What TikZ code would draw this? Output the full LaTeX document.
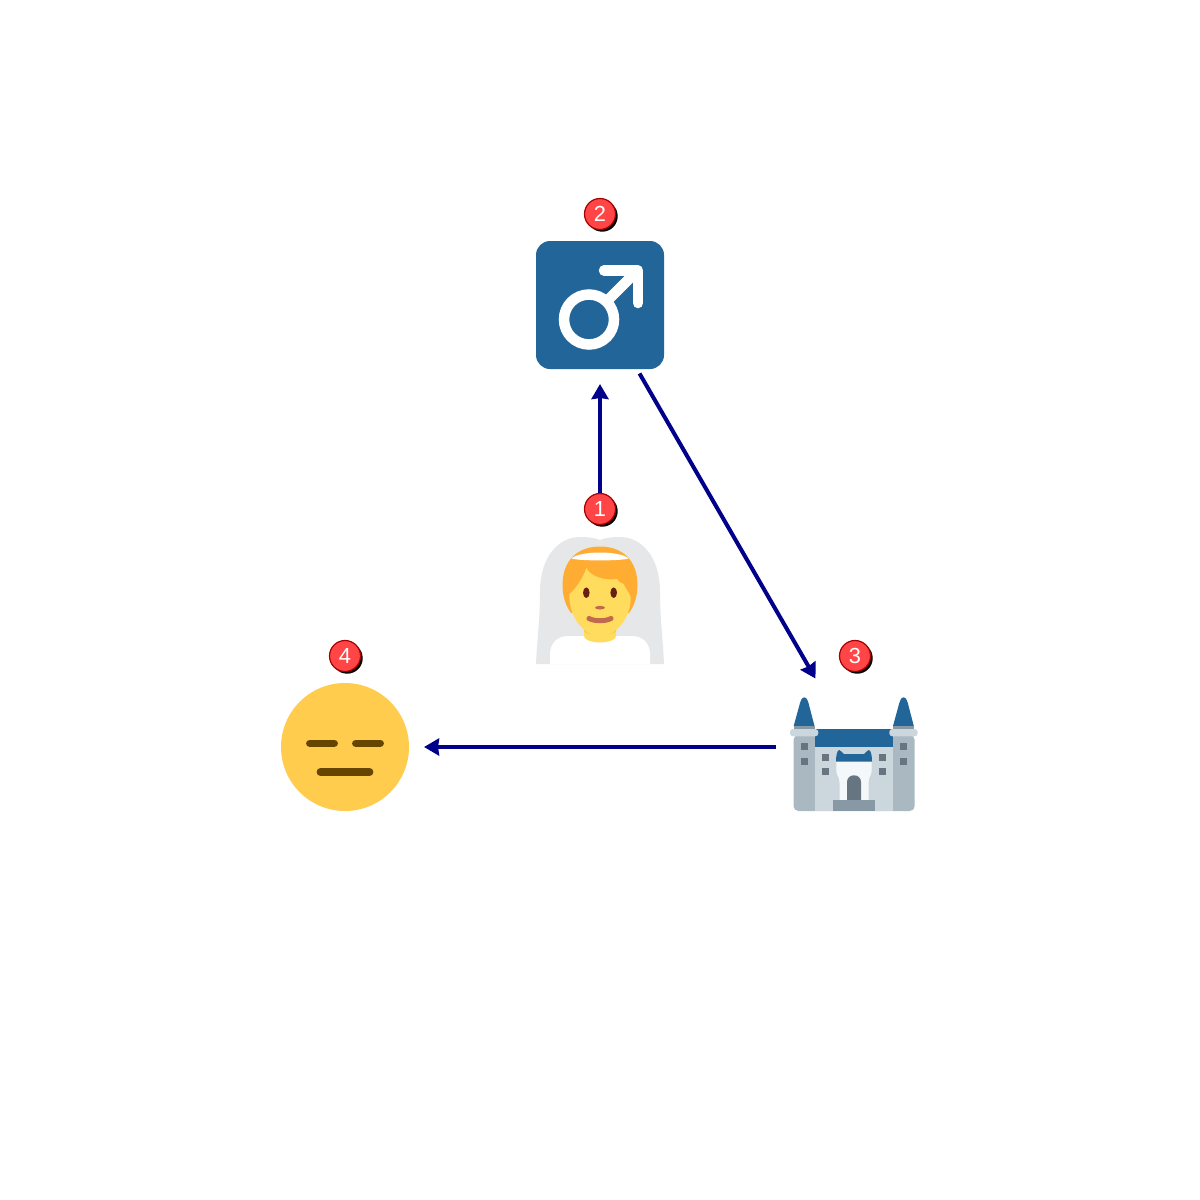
\documentclass[tikz,border=0pt]{standalone}
\usepackage{fontspec}
\setmainfont{Liberation Sans}
\usetikzlibrary{arrows.meta,shadows}
\definecolor{linkc}{HTML}{00008B}
\definecolor{blueb}{HTML}{226699}
\definecolor{veil}{HTML}{E6E7E8}
\definecolor{hair}{HTML}{FFAC33}
\definecolor{skin}{HTML}{FFDC5D}
\definecolor{neckd}{HTML}{F9CA55}
\definecolor{lip}{HTML}{C1694F}
\definecolor{eyeb}{HTML}{662113}
\definecolor{smile}{HTML}{FFCC4D}
\definecolor{smiled}{HTML}{664500}
\definecolor{stoned}{HTML}{AAB8C2}
\definecolor{stonel}{HTML}{CCD6DD}
\definecolor{winc}{HTML}{66757F}
\definecolor{stepc}{HTML}{8899A6}
\definecolor{gatec}{HTML}{F5F8FA}
\tikzset{
  hub/.style={circle,minimum size=1.58cm,inner sep=0pt,outer sep=0pt},
  link/.style={draw=linkc,line width=0.04cm,-{Stealth[length=0.15cm,width=0.17cm,inset=0.01cm]}},
  badge/.style={circle,fill=red!73!white,draw=red!65!black,line width=0.012cm,minimum size=0.31cm,inner sep=0pt,
    text=white,font=\fontsize{6.2}{6.2}\selectfont,
    drop shadow={shadow xshift=0.022cm,shadow yshift=-0.022cm,fill=black,opacity=1}},
  win/.style={fill=winc},
  stroke/.style={line cap=round,line width=#1}
}
\begin{document}
\begin{tikzpicture}[x=0.01cm,y=-0.01cm]
\useasboundingbox (0,0) rectangle (1200,1200);
\fill[white] (0,0) rectangle (1200,1200);

% layout hubs
\node[hub] (bride) at (600,600) {};
\node[hub] (male) at (600,305) {};
\node[hub] (castle) at (855,747) {};
\node[hub] (face) at (345,747) {};

% links
\draw[link] (bride) -- (male);
\draw[link] (male) -- (castle);
\draw[link] (castle) -- (face);

% bride
\fill[veil] (536,664) .. controls (537,640) and (540,620) .. (540,592)
  .. controls (540,555) and (560,537) .. (580,537)
  .. controls (588,537) and (595,538) .. (600,540)
  .. controls (605,538) and (612,537) .. (620,537)
  .. controls (640,537) and (660,555) .. (660,592)
  .. controls (660,620) and (663,640) .. (664,664) -- cycle;
\fill[white] (550,664) -- (550,654) .. controls (550,643) and (558,636) .. (568,636)
  -- (632,636) .. controls (642,636) and (650,643) .. (650,654) -- (650,664) -- cycle;
\fill[hair] (600,546.5) .. controls (622,546.5) and (637.5,560) .. (637.5,585)
  .. controls (637.5,597) and (634,606) .. (629,613) -- (571,613)
  .. controls (566,606) and (562.5,597) .. (562.5,585)
  .. controls (562.5,560) and (578,546.5) .. (600,546.5) -- cycle;
\fill[skin] (584,625) -- (616,625) -- (616,636) .. controls (616,640) and (608,642.5) .. (600,642.5)
  .. controls (592,642.5) and (584,640) .. (584,636) -- cycle;
\fill[neckd] (584,626) -- (616,626) -- (616,632) .. controls (608,636) and (592,636) .. (584,632) -- cycle;
\fill[skin] (569.3,594) .. controls (575,590) and (583,578) .. (586.5,568)
  .. controls (590,576) and (604,581) .. (617,579)
  .. controls (620,585) and (624,581) .. (625,587)
  .. controls (627,590) and (629,593) .. (630.7,597)
  .. controls (631,622) and (612,636.5) .. (600,636.5)
  .. controls (588,636.5) and (569,622) .. (569.3,594) -- cycle;
\fill[white] (571.5,558.5) .. controls (580,550.5) and (620,550.5) .. (628.5,558.5)
  .. controls (622,561) and (578,561) .. (571.5,558.5) -- cycle;
\fill[eyeb] (586.3,592.7) ellipse (3.3 and 5.3);
\fill[eyeb] (613.7,592.7) ellipse (3.3 and 5.3);
\fill[lip] (600,607.7) ellipse (5 and 1.8);
\draw[lip,stroke=0.05cm] (589,618.5) .. controls (595,621.5) and (605,621.5) .. (611,618.5);

% male sign tile
\fill[blueb,rounded corners=0.14cm] (536,241) rectangle (664,369);
\draw[white,line width=0.105cm] (589,319.5) circle (25);
\draw[white,line width=0.105cm] (606,302) -- (638,270);
\draw[white,line width=0.105cm,line cap=round,line join=round] (604,270.5) -- (638,270.5) -- (638,303);

% castle
\fill[stoned,rounded corners=0.05cm] (793.5,735) rectangle (914.7,811);
\fill[stonel] (815,746) rectangle (893,811);
\fill[blueb] (815,729.3) rectangle (893,747);
\foreach \dx in {0,99.3}{
  \fill[blueb] (793.7+\dx,726) -- (800+\dx,703) .. controls (801.5+\dx,698) and (803+\dx,697.3) .. (804.3+\dx,697.3)
     .. controls (805.5+\dx,697.3) and (807+\dx,698) .. (808.5+\dx,703) -- (814.5+\dx,726) -- cycle;
  \fill[stepc] (793.7+\dx,725.7) rectangle (814.5+\dx,730);
  \fill[stonel,rounded corners=0.03cm] (790+\dx,729) rectangle (818.3+\dx,736.3);
  \fill[win] (800.7+\dx,743.3) rectangle (807.7+\dx,750.3);
  \fill[win] (800.7+\dx,757.7) rectangle (807.7+\dx,764.7);
}
\foreach \wx in {822,879}{
  \fill[win] (\wx,754) rectangle (\wx+7,761);
  \fill[win] (\wx,768.3) rectangle (\wx+7,775.3);
}
\fill[gatec] (836.3,761) -- (871.7,761) -- (871.7,770) .. controls (871.7,776) and (868.5,776) .. (868.5,783)
  -- (868.5,800) -- (839.5,800) -- (839.5,783) .. controls (839.5,776) and (836.3,776) .. (836.3,770) -- cycle;
\fill[blueb] (836,761.5) .. controls (836,756) and (837,750) .. (839.3,750)
  .. controls (841.5,750) and (842,753.5) .. (844,754) -- (864,754)
  .. controls (866,753.5) and (866.5,750) .. (868.7,750)
  .. controls (871,750) and (872,756) .. (872,761.5) -- cycle;
\fill[win] (847,800) -- (847,782) .. controls (847,778) and (850,775.3) .. (854,775.3)
  .. controls (858,775.3) and (861,778) .. (861,782) -- (861,800) -- cycle;
\fill[stepc] (832.7,800) rectangle (875.3,811);

% neutral face
\fill[smile] (345,747) circle (64);
\draw[smiled,stroke=0.073cm] (309.7,743.3) -- (334.3,743.3);
\draw[smiled,stroke=0.073cm] (355.7,743.3) -- (380.3,743.3);
\draw[smiled,stroke=0.073cm] (320.3,772) -- (369.7,772);

% badges
\node[badge] (b1) at (600,509) {1};
\node[badge] (b2) at (600,214) {2};
\node[badge] (b3) at (855,656) {3};
\node[badge] (b4) at (345,656) {4};
\end{tikzpicture}
\end{document}
